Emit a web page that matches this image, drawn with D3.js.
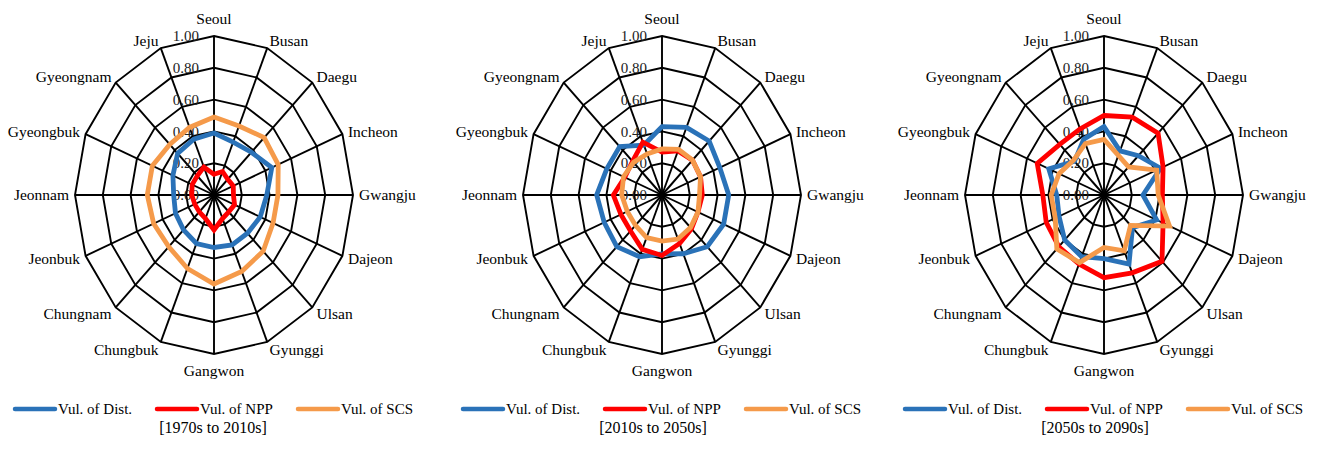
<!DOCTYPE html>
<html><head><meta charset="utf-8">
<script src="https://cdn.jsdelivr.net/npm/d3@7"></script>
<style>body{margin:0;background:#fff}svg{display:block}text{font-family:"Liberation Serif","Times New Roman",serif;fill:#000}</style>
</head><body><svg id="c" width="1320" height="450"></svg>
<script>
const regions = ["Seoul","Busan","Daegu","Incheon","Gwangju","Dajeon","Ulsan","Gyunggi","Gangwon","Chungbuk","Chungnam","Jeonbuk","Jeonnam","Gyeongbuk","Gyeongnam","Jeju"];
const tickValues = [0,0.2,0.4,0.6,0.8,1.0];
const seriesNames = ["Vul. of Dist.","Vul. of NPP","Vul. of SCS"];
const periods = ["[1970s to 2010s]","[2010s to 2050s]","[2050s to 2090s]"];
// chart 1: 1970s to 2010s
const dist1 = [0.39,0.36,0.38,0.45,0.38,0.36,0.34,0.34,0.33,0.33,0.31,0.30,0.29,0.32,0.37,0.38];
const npp1  = [0.13,0.16,0.14,0.15,0.14,0.16,0.15,0.16,0.22,0.16,0.15,0.15,0.16,0.17,0.17,0.19];
const scs1  = [0.49,0.47,0.51,0.50,0.46,0.46,0.50,0.52,0.56,0.50,0.46,0.47,0.48,0.48,0.45,0.46];
// chart 2: 2010s to 2050s
const dist2 = [0.43,0.46,0.48,0.45,0.48,0.48,0.46,0.40,0.37,0.42,0.46,0.45,0.47,0.43,0.43,0.34];
const npp2  = [0.27,0.30,0.31,0.30,0.29,0.28,0.30,0.33,0.38,0.37,0.32,0.32,0.35,0.29,0.30,0.36];
const scs2  = [0.29,0.31,0.31,0.30,0.27,0.28,0.29,0.30,0.29,0.29,0.27,0.27,0.29,0.30,0.29,0.28];
// chart 3: 2050s to 2090s
const dist3 = [0.43,0.30,0.35,0.44,0.28,0.41,0.29,0.47,0.40,0.42,0.40,0.35,0.34,0.43,0.30,0.38];
const npp3  = [0.50,0.53,0.55,0.46,0.42,0.46,0.59,0.53,0.52,0.47,0.46,0.45,0.44,0.52,0.45,0.45];
const scs3  = [0.35,0.27,0.25,0.41,0.39,0.51,0.27,0.38,0.33,0.46,0.48,0.38,0.38,0.35,0.31,0.35];

const colors = ["#2a72b8","#ff0000","#f59a4a"];
const charts = [
  {series:[dist1,npp1,scs1], period:periods[0]},
  {series:[dist2,npp2,scs2], period:periods[1]},
  {series:[dist3,npp3,scs3], period:periods[2]}
];
const layout = {cx:[214,662,1104], cy:195, rx:139, ry:159, capX:[-1,-9,-9]};

const svg = d3.select("#c");
svg.append("rect").attr("width",1320).attr("height",450).attr("fill","#fff");
const n = regions.length;
const ang = d3.scaleLinear().domain([0,n]).range([0,2*Math.PI]);
const rX = d3.scaleLinear().domain([0,1]).range([0,layout.rx]);
const rY = d3.scaleLinear().domain([0,1]).range([0,layout.ry]);
const px = (i,v)=> rX(v)*Math.sin(ang(i));
const py = (i,v)=> -rY(v)*Math.cos(ang(i));

charts.forEach((ch,k)=>{
  const cx = layout.cx[k], cy = layout.cy;
  const g = svg.append("g").attr("transform",`translate(${cx},${cy})`);
  tickValues.filter(t=>t>0).forEach(t=>{
    g.append("path")
      .attr("d", d3.line().curve(d3.curveLinearClosed)(regions.map((r,i)=>[px(i,t),py(i,t)])))
      .attr("fill","none").attr("stroke","#000").attr("stroke-width",1.9);
  });
  regions.forEach((r,i)=>{
    g.append("line").attr("x1",0).attr("y1",0).attr("x2",px(i,1)).attr("y2",py(i,1))
      .attr("stroke","#000").attr("stroke-width",1.9);
  });
  tickValues.forEach(t=>{
    g.append("text").attr("x",-15).attr("y",-rY(t)).attr("dy","0.35em")
      .attr("text-anchor","end").attr("font-size",15).style("fill","#222").text(t.toFixed(2));
  });
  regions.forEach((r,i)=>{
    const s = Math.sin(ang(i)), c = Math.cos(ang(i));
    let x = (layout.rx+6)*s;
    let y = -(layout.ry+8)*c;
    if (Math.abs(c)>0.99) y += (c>0 ? -9 : 9);
    const anchor = s>0.1 ? "start" : (s<-0.1 ? "end" : "middle");
    g.append("text").attr("x",x).attr("y",y).attr("dy","0.35em")
      .attr("text-anchor",anchor).attr("font-size",15.5).text(r);
  });
  ch.series.forEach((vals,j)=>{
    g.append("path")
      .attr("d", d3.line().curve(d3.curveLinearClosed)(vals.map((v,i)=>[px(i,v),py(i,v)])))
      .attr("fill","none").attr("stroke",colors[j]).attr("stroke-width",4.8)
      .attr("stroke-linejoin","miter");
  });
  const lg = svg.append("g").attr("transform",`translate(${cx},409)`);
  const offs = [-199,-57,84];
  seriesNames.forEach((nm,j)=>{
    lg.append("line").attr("x1",offs[j]).attr("x2",offs[j]+40).attr("y1",0).attr("y2",0)
      .attr("stroke",colors[j]).attr("stroke-width",4.5).attr("stroke-linecap","round");
    lg.append("text").attr("x",offs[j]+43).attr("y",0).attr("dy","0.35em")
      .attr("font-size",15).text(nm);
  });
  svg.append("text").attr("x",cx+layout.capX[k]).attr("y",427).attr("dy","0.35em")
    .attr("text-anchor","middle").attr("font-size",16).text(ch.period);
});
</script></body></html>
